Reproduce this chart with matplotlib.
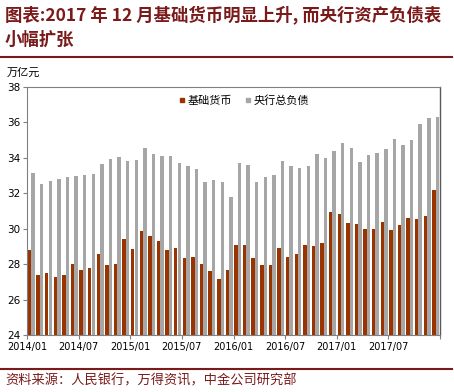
import matplotlib
matplotlib.use("Agg")
import matplotlib.pyplot as plt
from matplotlib.lines import Line2D
import numpy as np

plt.rcParams['font.family'] = ['Noto Sans CJK SC', 'DejaVu Sans']

months = [f"{y}/{m:02d}" for y in range(2014, 2018) for m in range(1, 13)]
base_money = [28.78, 27.40, 27.48, 27.29, 27.40, 28.01, 27.67, 27.80, 28.55, 27.95, 28.01, 29.42,
              28.85, 29.87, 29.60, 29.32, 28.80, 28.89, 28.33, 28.40, 27.99, 27.59, 27.18, 27.65,
              29.06, 29.06, 28.34, 27.95, 27.93, 28.91, 28.42, 28.55, 29.08, 29.02, 29.21, 30.92,
              30.81, 30.30, 30.26, 29.96, 29.96, 30.39, 29.93, 30.21, 30.60, 30.55, 30.72, 32.20]
total_liab = [33.14, 32.54, 32.69, 32.82, 32.92, 32.99, 33.03, 33.09, 33.65, 33.93, 34.05, 33.84,
              33.90, 34.56, 34.24, 34.10, 34.10, 33.71, 33.54, 33.37, 32.62, 32.75, 32.64, 31.79,
              33.71, 33.60, 32.64, 32.92, 33.05, 33.82, 33.54, 33.41, 33.52, 34.22, 33.99, 34.39,
              34.84, 34.56, 33.77, 34.16, 34.27, 34.52, 35.06, 34.74, 35.01, 35.91, 36.25, 36.31]
series_names = ["基础货币", "央行总负债"]
yticks = [24, 26, 28, 30, 32, 34, 36, 38]
title_lines = ["图表:2017 年 12 月基础货币明显上升, 而央行资产负债表", "小幅扩张"]
source = "资料来源：人民银行，万得资讯，中金公司研究部"

c_base = "#993300"
c_total = "#a6a6a6"
dark_red = "#7a1a1a"

W, H = 454, 392
fig = plt.figure(figsize=(W / 100, H / 100), dpi=100)
ax = fig.add_axes([27 / W, 1 - 335 / H, (440 - 27) / W, (335 - 87) / H])

x = np.arange(len(months))
bw = 0.40
ax.bar(x - 0.21, np.array(base_money) - 24, bw, bottom=24, color=c_base, label=series_names[0], zorder=2)
ax.bar(x + 0.20, np.array(total_liab) - 24, bw, bottom=24, color=c_total, label=series_names[1], zorder=2)

ax.set_xlim(-0.5, len(months) - 0.5)
ax.set_ylim(24, 38)
ax.set_yticks(yticks)
ax.set_yticklabels([str(v) for v in yticks], fontsize=7.5, family='DejaVu Sans')
tick_pos = list(x[::6] - 0.5) + [len(months) - 0.5]
tick_lab = [months[i] for i in range(0, len(months), 6)] + [""]
ax.set_xticks(tick_pos)
ax.set_xticklabels(tick_lab, fontsize=7, family='DejaVu Sans')
ax.tick_params(axis='both', direction='out', length=3, width=0.8, color='#808080', pad=2)
for s in ['left', 'bottom', 'top']:
    ax.spines[s].set_color('#808080')
    ax.spines[s].set_linewidth(0.8)
ax.spines['right'].set_color('#595959')
ax.spines['right'].set_linewidth(1.0)

handles = [Line2D([], [], marker='s', linestyle='none', color=c_base, markersize=3.5),
           Line2D([], [], marker='s', linestyle='none', color=c_total, markersize=3.5)]
ax.legend(handles, series_names, loc='upper left', bbox_to_anchor=((171 - 27) / 413, 1.0),
          ncol=2, frameon=False, fontsize=8, handlelength=0.6, handletextpad=0.2,
          columnspacing=1.1, borderaxespad=0.3)

fig.text(7 / W, 1 - 76 / H, "万亿元", fontsize=8, ha='left', va='baseline')

t1 = fig.text(5 / W, 1 - 5 / H, title_lines[0],
              fontsize=12.5, color=dark_red, fontweight='bold', ha='left', va='top')
t2 = fig.text(5 / W, 1 - 31 / H, title_lines[1],
              fontsize=12.5, color=dark_red, fontweight='bold', ha='left', va='top')
# shrink first title line to fit the width of the reference
renderer = fig.canvas.get_renderer()
wpx = t1.get_window_extent(renderer).width
if wpx > 442:
    t1.set_fontsize(12.5 * 442 / wpx)

fig.add_artist(Line2D([0, 452 / W], [1 - 57 / H, 1 - 57 / H], color=dark_red, lw=1.5,
                      transform=fig.transFigure))
fig.add_artist(Line2D([0, 452 / W], [1 - 369 / H, 1 - 369 / H], color=dark_red, lw=1.5,
                      transform=fig.transFigure))
fig.text(5 / W, 1 - 381 / H, source,
         fontsize=9.5, color=dark_red, ha='left', va='center')

fig.savefig("out.png", dpi=100)
